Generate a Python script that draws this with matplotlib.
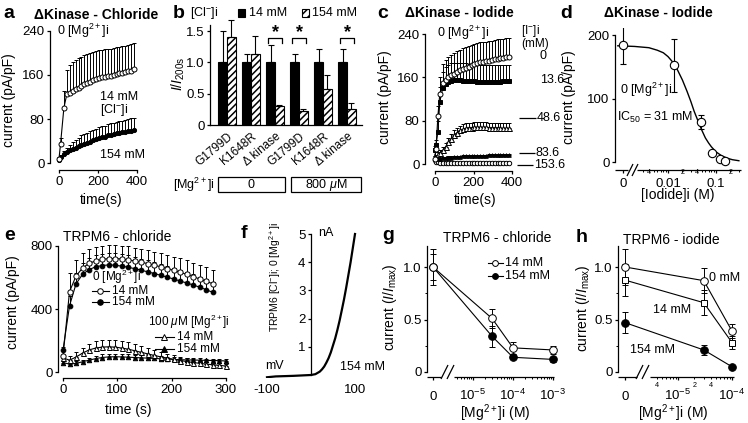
import numpy as np
import matplotlib
matplotlib.use('Agg')
import matplotlib.pyplot as plt
from matplotlib.patches import Rectangle

plt.rcParams['font.family'] = ['Liberation Sans', 'DejaVu Sans']
plt.rcParams['font.size'] = 9
plt.rcParams['mathtext.fontset'] = 'custom'
plt.rcParams['mathtext.rm'] = 'Liberation Sans'
plt.rcParams['mathtext.it'] = 'Liberation Sans:italic'
plt.rcParams['mathtext.bf'] = 'Liberation Sans:bold'
plt.rcParams['axes.linewidth'] = 0.9
plt.rcParams['hatch.linewidth'] = 1.1

# ---- panel a : dKinase chloride ----
time_a = [0, 8, 25, 40, 55, 70, 85, 100, 115, 130, 145, 160, 175, 190, 205, 220, 235,
          250, 265, 280, 295, 310, 325, 340, 355, 370, 385]
a_14 = [8, 35, 100, 125, 128, 131, 134, 137, 140, 143, 146, 148, 150, 152, 154, 156, 157,
        158, 159, 160, 161, 163, 164, 165, 167, 168, 170]
a_14_err = [3, 10, 30, 44, 50, 52, 53, 53, 53, 53, 52, 52, 52, 51, 51, 50, 50,
            50, 49, 49, 49, 48, 48, 48, 48, 48, 48]
a_154 = [6, 10, 16, 20, 23, 26, 28, 30, 33, 35, 37, 39, 41, 43, 45, 47, 48,
         50, 51, 52, 54, 55, 56, 57, 58, 59, 60]
a_154_err = [2, 4, 6, 8, 10, 12, 14, 16, 17, 18, 18, 19, 19, 19, 20, 20, 20,
             20, 21, 21, 21, 21, 21, 22, 22, 22, 22]

# ---- panel b : normalised bars ----
b_labels = ['G1799D', 'K1648R', '\u0394 kinase', 'G1799D', 'K1648R', '\u0394 kinase']
b_14 = [1.0, 1.0, 1.0, 1.0, 1.0, 1.0]
b_14_err = [0.5, 0.13, 0.27, 0.13, 0.21, 0.22]
b_154 = [1.4, 1.13, 0.3, 0.23, 0.57, 0.25]
b_154_err = [0.28, 0.29, 0.02, 0.02, 0.23, 0.1]
b_signif = [2, 3, 5]

# ---- panel c : dKinase iodide time courses ----
time_c = [0, 5, 15, 25, 40, 55, 70, 85, 100, 115, 130, 145, 160, 175, 190, 205, 220,
          235, 250, 265, 280, 295, 310, 325, 340, 355, 370, 385]
c_0 = [10, 28, 88, 130, 150, 155, 160, 164, 167, 170, 173, 176, 178, 180, 182, 184, 186,
       188, 189, 190, 191, 192, 193, 194, 195, 196, 197, 198]
c_0_err = [5, 10, 20, 30, 35, 37, 38, 38, 38, 38, 38, 38, 38, 38, 37, 37, 37,
           37, 37, 36, 36, 36, 36, 36, 36, 35, 35, 35]
c_13 = [25, 35, 60, 115, 140, 148, 152, 154, 155, 155, 155, 154, 154, 153, 153, 153, 152,
        152, 152, 152, 152, 152, 152, 152, 152, 153, 153, 153]
c_13_err = [5, 10, 20, 28, 30, 31, 31, 32, 32, 32, 32, 32, 32, 32, 31, 31, 31,
            31, 31, 31, 30, 30, 30, 30, 30, 30, 30, 30]
c_48 = [30, 22, 18, 20, 25, 32, 40, 47, 53, 58, 62, 64, 66, 67, 67, 68, 68,
        68, 68, 68, 67, 67, 67, 67, 66, 66, 66, 66]
c_48_err = [3, 3, 4, 5, 6, 7, 8, 8, 9, 9, 9, 9, 9, 9, 9, 9, 9,
            9, 9, 9, 9, 9, 9, 9, 9, 9, 9, 9]
c_83 = [12, 10, 9, 10, 11, 11, 12, 12, 13, 13, 13, 14, 14, 14, 14, 15, 15,
        15, 15, 15, 16, 16, 16, 16, 16, 17, 17, 17]
c_83_err = [2, 2, 2, 2, 2, 2, 2, 2, 2, 2, 2, 2, 2, 2, 2, 2, 2,
            2, 2, 2, 2, 2, 2, 2, 2, 2, 2, 2]
c_153 = [8, 4, 3, 2, 2, 2, 2, 2, 2, 2, 2, 2, 2, 2, 2, 2, 2,
         2, 2, 2, 2, 2, 2, 2, 2, 2, 2, 2]
c_153_err = [1, 1, 1, 1, 1, 1, 1, 1, 1, 1, 1, 1, 1, 1, 1, 1, 1,
             1, 1, 1, 1, 1, 1, 1, 1, 1, 1, 1]
c_names = ['0', '13.6', '48.6', '83.6', '153.6']

# ---- panel d : iodide dose response ----
iodide_conc = [0, 0.0136, 0.0486, 0.0836, 0.1186, 0.1536]
d_current = [185, 152, 63, 14, 4, 2]
d_err = [30, 41, 11, 2, 1, 1]
fit_conc = [0.0009, 0.002, 0.004, 0.006, 0.008, 0.01, 0.013, 0.016, 0.02, 0.025, 0.03,
            0.035, 0.04, 0.05, 0.06, 0.07, 0.08, 0.1, 0.13, 0.17, 0.22, 0.3]
fit_current = [183, 182, 180, 176, 172, 166, 156, 144, 129, 111, 95,
               80, 69, 51, 38, 30, 24, 16, 10, 6, 3.6, 2]

# ---- panel e : TRPM6 chloride time courses ----
time_e = [0, 12, 24, 36, 48, 60, 72, 84, 96, 108, 120, 132, 144, 156, 168, 180,
          192, 204, 216, 228, 240, 252, 264, 276]
e_14 = [100, 510, 610, 660, 690, 705, 715, 720, 720, 718, 712, 705, 697, 688, 678, 668,
        657, 645, 632, 620, 605, 590, 575, 560]
e_14_err = [40, 120, 100, 95, 90, 88, 86, 85, 85, 85, 85, 85, 85, 86, 86, 87,
            88, 88, 89, 90, 90, 90, 90, 90]
e_154 = [140, 420, 560, 620, 650, 668, 676, 680, 678, 672, 665, 656, 646, 636, 625, 614,
         602, 590, 577, 565, 552, 538, 522, 505]
e_154_err = [20, 60, 70, 75, 75, 75, 75, 75, 75, 75, 75, 75, 72, 72, 72, 70,
             70, 70, 68, 68, 68, 66, 66, 66]
time_e2 = [0, 12, 24, 36, 48, 60, 72, 84, 96, 108, 120, 132, 144, 156, 168, 180,
           192, 204, 216, 228, 240, 252, 264, 276, 288, 300]
e_mg_14 = [90, 75, 95, 120, 140, 152, 158, 160, 158, 152, 145, 135, 125, 115, 105, 96,
           88, 80, 73, 66, 60, 55, 50, 46, 42, 38]
e_mg_14_err = [20, 25, 30, 35, 40, 45, 45, 45, 45, 45, 43, 40, 38, 35, 32, 30,
               28, 26, 24, 22, 20, 18, 16, 15, 14, 13]
e_mg_154 = [60, 50, 55, 65, 75, 85, 92, 96, 97, 96, 94, 92, 90, 88, 86, 84,
            82, 80, 78, 77, 76, 75, 74, 73, 72, 70]
e_mg_154_err = [10, 10, 12, 14, 16, 18, 20, 20, 20, 20, 20, 19, 18, 17, 16, 15,
                14, 13, 12, 12, 11, 11, 10, 10, 10, 10]

# ---- panel f : I-V ----
f_mv = [-100, -80, -60, -40, -20, 0, 10, 20, 25, 30, 35, 40, 45, 50, 55, 60, 65, 70,
        75, 80, 85, 90, 95, 100]
f_na = [-0.08, -0.05, -0.04, -0.03, -0.015, 0, 0.03, 0.12, 0.2, 0.3, 0.44, 0.6, 0.8,
        1.05, 1.3, 1.6, 1.93, 2.3, 2.68, 3.1, 3.55, 4.0, 4.5, 5.0]

# ---- panel g : TRPM6 chloride Mg dose ----
mg_g = [0, 3e-5, 1e-4, 1e-3]
g_14 = [1.0, 0.51, 0.23, 0.21]
g_14_err = [0.17, 0.09, 0.06, 0.04]
g_154 = [1.0, 0.34, 0.14, 0.12]
g_154_err = [0.12, 0.1, 0.02, 0.02]

# ---- panel h : TRPM6 iodide Mg dose ----
mg_h = [0, 3e-5, 1e-4]
h_0 = [1.0, 0.87, 0.39]
h_0_err = [0.17, 0.12, 0.07]
h_14 = [0.875, 0.66, 0.28]
h_14_err = [0.15, 0.12, 0.06]
h_154 = [0.47, 0.21, 0.05]
h_154_err = [0.1, 0.05, 0.01]

W, H = 748, 423
fig = plt.figure(figsize=(W / 100, H / 100), dpi=100)
TICK = 9.5


def panel(box, xmap, ymap):
    left, right, top, bottom = box
    ax = fig.add_axes([left / W, 1 - bottom / H, (right - left) / W, (bottom - top) / H])
    xv1, xp1, xv2, xp2 = xmap
    sx = (xp2 - xp1) / (xv2 - xv1)
    ax.set_xlim(xv1 + (left - xp1) / sx, xv1 + (right - xp1) / sx)
    yv1, yp1, yv2, yp2 = ymap
    sy = (yp2 - yp1) / (yv2 - yv1)
    ax.set_ylim(yv1 + (bottom - yp1) / sy, yv1 + (top - yp1) / sy)
    ax.spines[['top', 'right']].set_visible(False)
    ax.tick_params(direction='out', length=2.5, width=0.9, labelsize=TICK, pad=1.5)
    ax.patch.set_visible(False)
    return ax


def series(ax, x, y, err, marker, filled, ms, sym=False, cap=1.5, lw=0.8):
    e = np.asarray(err, dtype=float)
    yerr = e if sym else [np.zeros_like(e), e]
    ax.errorbar(x, y, yerr=yerr, fmt=marker + '-', color='k', ms=ms,
                mfc='k' if filled else 'white', mec='k', mew=0.7, lw=lw,
                elinewidth=0.7, capsize=cap, capthick=0.7, clip_on=False)


def logpos(vals, zero):
    v = np.asarray(vals, dtype=float)
    out = np.full_like(v, zero)
    out[v > 0] = np.log10(v[v > 0])
    return out


def log_ticks(ax, zero, majors, major_labels, lo, hi, minor_labels, pad_major, pad_minor):
    ax.spines['bottom'].set_visible(False)
    ax.set_xticks([zero] + majors, major_labels)
    minors = []
    for n in range(-7, 0):
        for k in range(2, 10):
            p = np.log10(k * 10.0 ** n)
            if lo <= p <= hi:
                minors.append(p)
    labs = [minor_labels.get(round(10 ** p, 10), '') for p in minors]
    ax.set_xticks(minors, labs, minor=True)
    ax.tick_params(axis='x', which='major', pad=pad_major)
    ax.tick_params(axis='x', which='minor', length=1.5, width=0.7, labelsize=5.2, pad=pad_minor)
    plt.setp(ax.get_xticklabels(), va='baseline')
    plt.setp(ax.get_xticklabels(minor=True), va='baseline')


# a
ax = panel((50, 145, 25, 170), (0, 59, 400, 137), (0, 163, 240, 31))
series(ax, time_a, a_154, a_154_err, 'o', True, 3.0)
series(ax, time_a, a_14, a_14_err, 'o', False, 3.6)
ax.set_xticks([0, 200, 400])
ax.set_yticks([0, 80, 160, 240])
ax.spines['left'].set_bounds(0, 240)
ax.spines['bottom'].set_bounds(0, 400)

# b
ax = panel((210, 362, 15, 125), (0, 227, 1, 251), (0, 125, 1.5, 31))
xb = np.arange(len(b_labels))
w = 0.36
ax.bar(xb - w / 2, b_14, w, color='k', edgecolor='k', lw=0.8)
ax.bar(xb + w / 2, b_154, w, facecolor='white', edgecolor='k', hatch='/////', lw=0.8)
ax.errorbar(xb - w / 2, b_14, yerr=[np.zeros(6), b_14_err], fmt='none', ecolor='k',
            elinewidth=0.8, capsize=2.2, capthick=0.8)
ax.errorbar(xb + w / 2, b_154, yerr=[np.zeros(6), b_154_err], fmt='none', ecolor='k',
            elinewidth=0.8, capsize=2.2, capthick=0.8)
for i in b_signif:
    ax.plot([i - 0.3, i - 0.3, i + 0.3, i + 0.3], [1.31, 1.39, 1.39, 1.31], color='k', lw=0.9)
    ax.text(i, 1.47, '*', ha='center', va='center', fontsize=13, fontweight='bold')
ax.set_yticks([0, 0.5, 1.0, 1.5], ['0', '0.5', '1.0', '1.5'])
ax.set_xticks(xb, b_labels, rotation=40, ha='right', rotation_mode='anchor', fontsize=8.5)
ax.tick_params(axis='x', length=0, pad=4)
ax.spines['left'].set_bounds(0, 1.6)

# c
ax = panel((425, 517, 28, 171), (0, 435, 400, 512), (0, 164, 240, 34))
series(ax, time_c, c_153, c_153_err, 'o', False, 3.2)
series(ax, time_c, c_83, c_83_err, '^', True, 2.6)
series(ax, time_c, c_48, c_48_err, '^', False, 3.6)
series(ax, time_c, c_13, c_13_err, 's', True, 2.8)
series(ax, time_c, c_0, c_0_err, 'o', False, 3.6)
ax.set_xticks([0, 200, 400])
ax.set_yticks([0, 80, 160, 240])
ax.spines['left'].set_bounds(0, 240)
ax.spines['bottom'].set_bounds(0, 400)

# d
D_ZERO = -2.94
ax = panel((615, 745, 28, 170), (-2, 668, -1, 716), (0, 162, 200, 35))
ax.plot(logpos(fit_conc, D_ZERO), fit_current, color='k', lw=1.0)
ax.errorbar(logpos(iodide_conc, D_ZERO), d_current, yerr=d_err, fmt='o', color='k', ms=6,
            mfc='white', mec='k', mew=0.8, elinewidth=0.8, capsize=2.5, capthick=0.8, zorder=3)
ax.set_yticks([0, 100, 200])
ax.spines['left'].set_bounds(0, 200)
log_ticks(ax, D_ZERO, [-2, -1], ['0', '0.01', '0.1'], -2.64, -0.48,
          {0.004: '4', 0.02: '2', 0.04: '4', 0.2: '2'}, 10.0, 1.5)

# e
ax = panel((58, 235, 240, 378), (0, 63, 300, 226), (0, 372, 800, 246))
series(ax, time_e2, e_mg_154, e_mg_154_err, '^', True, 3.2)
series(ax, time_e2, e_mg_14, e_mg_14_err, '^', False, 3.6)
series(ax, time_e, e_154, e_154_err, 'o', True, 3.4)
series(ax, time_e, e_14, e_14_err, 'o', False, 3.8)
ax.set_xticks([0, 100, 200, 300])
ax.set_yticks([0, 400, 800])
ax.spines['left'].set_bounds(0, 800)
ax.spines['bottom'].set_bounds(0, 300)

# f
ax = panel((262, 362, 228, 378), (0, 311, 100, 355), (0, 375, 5, 234))
ax.plot(f_mv, f_na, color='k', lw=1.6)
ax.spines['left'].set_position(('data', 0))
ax.spines['left'].set_bounds(0, 5)
ax.spines['bottom'].set_visible(False)
ax.set_yticks([1, 2, 3, 4, 5])
ax.set_xticks([-100, 100], ['-100', '100'])
ax.tick_params(axis='x', length=0, pad=4)

# g
G_ZERO = -6.0
ax = panel((427, 556, 244, 377), (-5, 473, -4, 513), (0, 372, 1, 267))
series(ax, logpos(mg_g, G_ZERO), g_154, g_154_err, 'o', True, 5.5, sym=True, cap=2.5)
series(ax, logpos(mg_g, G_ZERO), g_14, g_14_err, 'o', False, 5.5, sym=True, cap=2.5)
ax.set_yticks([0, 0.5, 1.0], ['0', '0.5', '1.0'])
ax.set_yticks([0.25, 0.75], minor=True)
ax.tick_params(axis='y', which='minor', length=1.5, width=0.7)
ax.spines['left'].set_bounds(0, 1.2)
log_ticks(ax, G_ZERO, [-5, -4, -3], ['0', '10$^{-5}$', '10$^{-4}$', '10$^{-3}$'],
          -5.45, -3.0, {}, 14.0, 3)

# h
H_ZERO = -5.98
ax = panel((618, 736, 244, 377), (-5, 678, -4, 732), (0, 372, 1, 267))
series(ax, logpos(mg_h, H_ZERO), h_154, h_154_err, 'o', True, 5.5, sym=True, cap=2.5)
series(ax, logpos(mg_h, H_ZERO), h_14, h_14_err, 's', False, 5.0, sym=True, cap=2.5)
series(ax, logpos(mg_h, H_ZERO), h_0, h_0_err, 'o', False, 5.5, sym=True, cap=2.5)
ax.set_yticks([0, 0.5, 1.0], ['0', '0.5', '1.0'])
ax.set_yticks([0.25, 0.75], minor=True)
ax.tick_params(axis='y', which='minor', length=1.5, width=0.7)
ax.spines['left'].set_bounds(0, 1.2)
log_ticks(ax, H_ZERO, [-5, -4], ['0', '10$^{-5}$', '10$^{-4}$'], -5.48, -4.0,
          {4e-6: '4', 2e-5: '2', 4e-5: '4'}, 14.0, 6)

# ---- overlay in pixel coordinates for labels and decorations ----
ov = fig.add_axes([0, 0, 1, 1])
ov.set_xlim(0, W)
ov.set_ylim(H, 0)
ov.axis('off')


def txt(x, y, s, ha='left', size=9, **kw):
    ov.text(x, y, s, ha=ha, va='center', fontsize=size, **kw)


def seg(x0, y0, x1, y1, lw=0.9):
    ov.plot([x0, x1], [y0, y1], color='k', lw=lw, solid_capstyle='butt')


for letter, x, y in [('a', 3, 14), ('b', 173, 14), ('c', 377, 14), ('d', 560, 14),
                     ('e', 4, 236), ('f', 241, 234), ('g', 382, 236), ('h', 576, 237)]:
    txt(x, y, letter, size=14, fontweight='bold')

txt(96, 15, '\u0394Kinase - Chloride', ha='center', size=10, fontweight='bold')
txt(459, 13, '\u0394Kinase - Iodide', ha='center', size=10, fontweight='bold')
txt(658, 13, '\u0394Kinase - Iodide', ha='center', size=10, fontweight='bold')
txt(63, 237, 'TRPM6 - chloride', size=10)
txt(443, 238, 'TRPM6 - chloride', size=10)
txt(623, 240, 'TRPM6 - iodide', size=10)

# axis labels
txt(9, 100, 'current (pA/pF)', ha='center', size=10, rotation=90)
txt(101, 200, 'time(s)', ha='center', size=10)
txt(178, 74, r'$I/I_{\rm 200s}$', ha='center', size=10, rotation=90)
txt(385, 97, 'current (pA/pF)', ha='center', size=10, rotation=90)
txt(475, 200, 'time(s)', ha='center', size=10)
txt(569, 97, 'current (pA/pF)', ha='center', size=10, rotation=90)
txt(678, 195, '[Iodide]i (M)', ha='center', size=10)
txt(13, 302, 'current (pA/pF)', ha='center', size=10, rotation=90)
txt(128, 410, 'time (s)', ha='center', size=10)
ov.text(275, 222, 'TRPM6 [Cl$^{-}$]i; 0 [Mg$^{2+}$]i', ha='center', va='top',
        rotation=90, fontsize=7.5)
txt(390, 307, r'current ($I/I_{\rm max}$)', ha='center', size=10, rotation=90)
txt(495, 413, '[Mg$^{2+}$]i (M)', ha='center', size=10)
txt(583, 308, r'current ($I/I_{\rm max}$)', ha='center', size=10, rotation=90)
txt(673, 413, '[Mg$^{2+}$]i (M)', ha='center', size=10)

# a annotations
txt(57, 31, '0 [Mg$^{2+}$]i')
txt(100, 97, '14 mM')
txt(100, 110, '[Cl$^{-}$]i')
txt(100, 155, '154 mM')

# b legend and Mg row
txt(190, 13, '[Cl$^{-}$]i')
ov.add_patch(Rectangle((238, 9), 7, 8, facecolor='k', edgecolor='k', lw=0.8))
txt(249, 13, '14 mM')
ov.add_patch(Rectangle((302, 9), 7, 8, facecolor='white', edgecolor='k', hatch='////', lw=0.8))
txt(312, 13, '154 mM')
txt(215, 185, '[Mg$^{2+}$]i', ha='right')
ov.add_patch(Rectangle((218, 177), 67, 15, fill=False, edgecolor='k', lw=0.9))
ov.add_patch(Rectangle((291, 177), 70, 15, fill=False, edgecolor='k', lw=0.9))
txt(251, 185, '0', ha='center')
txt(326, 185, '800 $\\mu$M', ha='center')

# c annotations
txt(437, 33, '0 [Mg$^{2+}$]i')
txt(521, 31, '[I$^{-}$]i', size=8.5)
txt(521, 44, '(mM)', size=8.5)
txt(540, 56, c_names[0])
txt(540, 80, c_names[1])
seg(519, 118, 536, 118)
txt(537, 118, c_names[2])
seg(519, 153, 535, 153)
txt(536, 153, c_names[3])
seg(517, 165, 533, 165)
txt(534, 165, c_names[4])

# d annotations and broken axis
txt(620, 90, '0 [Mg$^{2+}$]i')
txt(617, 117, 'IC$_{50}$ = 31 mM')
seg(615, 170, 628, 170)
seg(637, 170, 741, 170)
seg(627, 176, 633, 164)
seg(632, 176, 638, 164)

# e legend
txt(92, 277, '0 [Mg$^{2+}$]i', size=8.5)
for y, filled, lab in [(291, False, '14 mM'), (302, True, '154 mM')]:
    ov.plot([92, 109], [y, y], color='k', lw=0.8)
    ov.plot([100], [y], 'o', ms=4, mfc='k' if filled else 'white', mec='k', mew=0.7)
    txt(112, y, lab, size=8.5)
txt(148, 322, '100 $\\mu$M [Mg$^{2+}$]i', size=8.5)
for y, filled, lab in [(337, False, '14 mM'), (349, True, '154 mM')]:
    ov.plot([155, 174], [y, y], color='k', lw=0.8)
    ov.plot([164], [y], '^', ms=4, mfc='k' if filled else 'white', mec='k', mew=0.7)
    txt(177, y, lab, size=8.5)

# f annotations
txt(318, 233, 'nA')
txt(265, 366, 'mV')
txt(340, 367, '154 mM')

# g legend and broken axis
for y, filled, lab in [(263, False, '14 mM'), (276, True, '154 mM')]:
    ov.plot([488, 503], [y, y], color='k', lw=0.8)
    ov.plot([495], [y], 'o', ms=4.2, mfc='k' if filled else 'white', mec='k', mew=0.7)
    txt(505, y, lab)
seg(427, 377, 441, 377)
seg(454, 377, 554, 377)
seg(441, 379, 448, 365)
seg(447, 379, 454, 365)

# h annotations and broken axis
txt(709, 278, '0 mM')
txt(653, 310, '14 mM')
txt(630, 350, '154 mM')
seg(618, 377, 637, 377)
seg(650, 377, 734, 377)
seg(636, 379, 643, 365)
seg(642, 379, 649, 365)

fig.savefig('out.png', dpi=100)
